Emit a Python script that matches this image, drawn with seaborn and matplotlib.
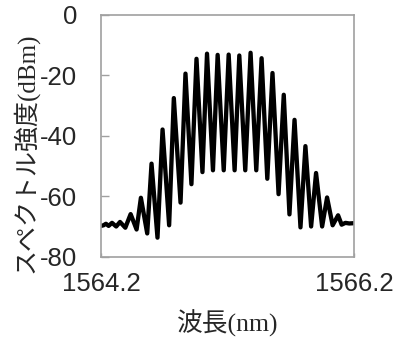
import matplotlib
matplotlib.use("Agg")
import matplotlib.pyplot as plt
import seaborn as sns
import pandas as pd

# Spectrum (wavelength in nm, power in dBm)
wavelength = [1564.200, 1564.220, 1564.239, 1564.260, 1564.287, 1564.320, 1564.350, 1564.392,
              1564.434, 1564.481, 1564.515, 1564.565, 1564.599, 1564.646, 1564.686, 1564.738,
              1564.775, 1564.828, 1564.867, 1564.914, 1564.954, 1565.001, 1565.037, 1565.084,
              1565.121, 1565.169, 1565.208, 1565.255, 1565.292, 1565.339, 1565.381, 1565.426,
              1565.468, 1565.513, 1565.554, 1565.602, 1565.643, 1565.688, 1565.728, 1565.775,
              1565.814, 1565.859, 1565.898, 1565.946, 1565.985, 1566.029, 1566.072, 1566.100,
              1566.130, 1566.160, 1566.200]
power = [-69.8, -69.6, -69.1, -69.8, -68.8, -70.0, -68.5, -70.4,
         -65.9, -71.0, -60.5, -72.3, -49.2, -73.7, -37.9, -69.6,
         -27.5, -62.1, -19.4, -56.0, -14.5, -52.0, -12.8, -51.4,
         -13.2, -51.4, -13.1, -51.4, -13.4, -51.4, -12.5, -51.4,
         -14.3, -54.2, -19.2, -59.3, -26.4, -66.0, -34.7, -70.3,
         -43.4, -70.0, -52.3, -70.0, -60.4, -69.6, -66.3, -69.4,
         -68.8, -69.0, -68.9]

x_ticks = [1564.2, 1566.2]
x_tick_labels = ["1564.2", "1566.2"]
y_ticks = [-80, -60, -40, -20, 0]

df = pd.DataFrame({"wavelength": wavelength, "power": power})

sns.set_style("white")
plt.rcParams["font.family"] = ["Liberation Sans", "DejaVu Sans"]

fig = plt.figure(figsize=(3.93, 3.40), dpi=100)
ax = fig.add_axes([101 / 393, 1 - 256.7 / 340, (354.3 - 101) / 393, (256.7 - 15) / 340])

sns.lineplot(data=df, x="wavelength", y="power", ax=ax, color="black",
             linewidth=3.1, sort=False, estimator=None)
for l in ax.lines:
    l.set_solid_joinstyle("round")
    l.set_solid_capstyle("round")

ax.set_xlim(1564.2, 1566.2)
ax.set_ylim(-80, 0)
ax.set_xticks(x_ticks)
ax.set_xticklabels(x_tick_labels)
ax.set_yticks(y_ticks)
ax.set_yticklabels([str(v) for v in y_ticks])
ax.set_xlabel("")
ax.set_ylabel("")

for s in ax.spines.values():
    s.set_visible(True)
    s.set_color("#a0a0a0")
    s.set_linewidth(1.2)

ax.tick_params(axis="y", direction="in", length=6, width=1.0, color="#a0a0a0",
               labelsize=18.5, pad=17, left=True)
ax.tick_params(axis="x", direction="in", length=3, width=1.0, color="#a0a0a0",
               labelsize=18.5, pad=11, bottom=True)

lab_font = ["Liberation Serif", "Noto Sans CJK JP"]
fig.text(25 / 393, 1 - 153 / 340, "スペクトル強度(dBm)", rotation=90,
         ha="center", va="center", fontsize=18, family=lab_font)
fig.text(228 / 393, 1 - 323 / 340, "波長(nm)", ha="center", va="center",
         fontsize=18.5, family=lab_font)

fig.savefig("out.png", dpi=100)
